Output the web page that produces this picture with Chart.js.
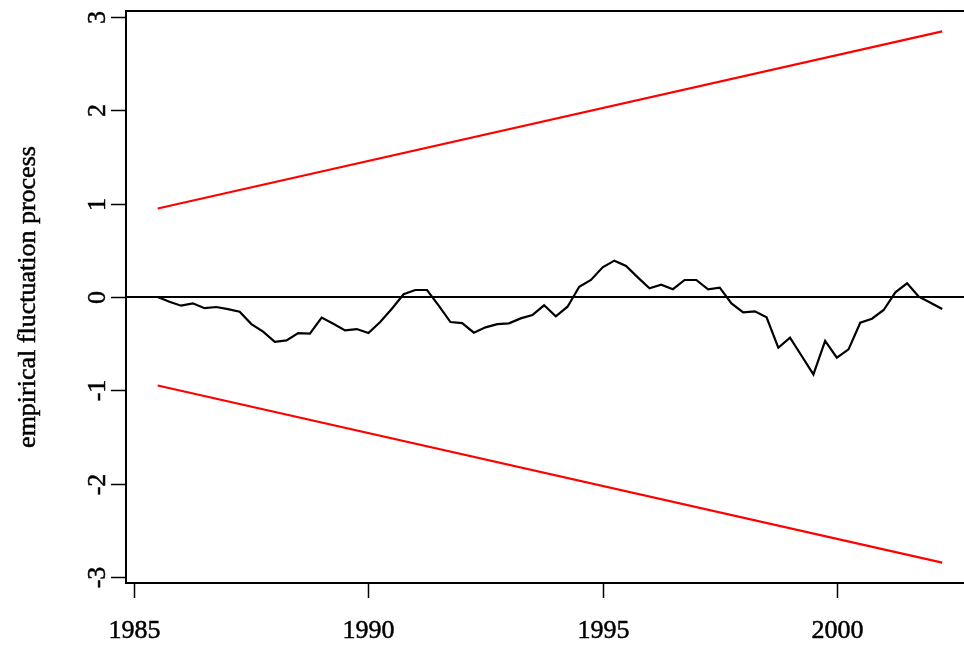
<!DOCTYPE html>
<html lang="en">

<head>
    <meta charset="UTF-8">
    <title>empirical fluctuation process</title>
    <style>
        html, body {
            margin: 0;
            padding: 0;
            overflow: hidden;
            background: #fff;
        }
        .blocker {
            width: 990px;
            height: 648px;
        }
    </style>
    <script src="https://cdn.jsdelivr.net/npm/chart.js"></script>
</head>

<body>
    <div class="blocker">
        <canvas id="myChart" width="990" height="648"></canvas>
    </div>

    <script>
        // quarterly series, starts 1985 Q3
        const startYear = 1985.5;
        const freq = 4;
        const process = [
            0, -0.05, -0.093, -0.068, -0.12, -0.107, -0.13, -0.157, -0.29, -0.37,
            -0.48, -0.465, -0.386, -0.393, -0.22, -0.286, -0.357, -0.343, -0.386, -0.268,
            -0.125, 0.029, 0.075, 0.075, -0.093, -0.268, -0.279, -0.382, -0.325, -0.29,
            -0.282, -0.229, -0.193, -0.089, -0.207, -0.104, 0.11, 0.182, 0.318, 0.389,
            0.332, 0.21, 0.093, 0.132, 0.084, 0.182, 0.182, 0.082, 0.1, -0.068,
            -0.164, -0.154, -0.218, -0.543, -0.436, -0.632, -0.829, -0.471, -0.65, -0.561,
            -0.275, -0.232, -0.139, 0.05, 0.146, 0.003, -0.061, -0.129
        ];
        const boundTimes = [1985.5, 2002.25];
        const upperBound = [0.948, 2.844];
        const lowerBound = [-0.948, -2.844];
        const xTicks = [1985, 1990, 1995, 2000];
        const yTicks = [-3, -2, -1, 0, 1, 2, 3];
        const xRange = [1984.823, 2002.92];
        const yRange = [-3.062, 3.062];
        const yTitle = 'empirical fluctuation process';

        const font = '26px "Liberation Serif", "Times New Roman", serif';

        const procPoints = process.map((v, i) => ({ x: startYear + i / freq, y: v }));
        const upperPoints = boundTimes.map((t, i) => ({ x: t, y: upperBound[i] }));
        const lowerPoints = boundTimes.map((t, i) => ({ x: t, y: lowerBound[i] }));
        const zeroPoints = xRange.map(t => ({ x: t, y: 0 }));

        // text drawn a bit heavier, like the R png output
        function heavyText(c, s, x, y) {
            c.fillText(s, x, y);
            c.lineWidth = 0.5;
            c.strokeText(s, x, y);
        }

        // R style box + axes
        const rAxes = {
            id: 'rAxes',
            afterDraw(chart) {
                const c = chart.ctx;
                const a = chart.chartArea;
                const xs = chart.scales.x;
                const ys = chart.scales.y;
                c.save();
                c.strokeStyle = '#000';
                c.lineWidth = 2;
                c.strokeRect(a.left, a.top, a.right - a.left, a.bottom - a.top);

                c.fillStyle = '#000';
                c.font = font;
                c.textAlign = 'center';
                c.textBaseline = 'middle';

                xTicks.forEach(t => {
                    const px = Math.round(xs.getPixelForValue(t)) + 0.5;
                    c.lineWidth = 1.5;
                    c.beginPath();
                    c.moveTo(px, a.bottom);
                    c.lineTo(px, a.bottom + 15);
                    c.stroke();
                    heavyText(c, String(t), px, 631);
                });

                yTicks.forEach(t => {
                    const py = Math.round(ys.getPixelForValue(t)) + 0.5;
                    c.lineWidth = 1.5;
                    c.beginPath();
                    c.moveTo(a.left - 15, py);
                    c.lineTo(a.left, py);
                    c.stroke();
                    c.save();
                    c.translate(98, py);
                    c.rotate(-Math.PI / 2);
                    heavyText(c, String(t), 0, 0);
                    c.restore();
                });

                c.save();
                c.translate(28, (a.top + a.bottom) / 2);
                c.rotate(-Math.PI / 2);
                heavyText(c, yTitle, 0, 0);
                c.restore();
                c.restore();
            }
        };

        const ctx = document.getElementById('myChart');

        new Chart(ctx, {
            type: 'line',
            data: {
                datasets: [{
                    label: 'process',
                    data: procPoints,
                    borderColor: '#000',
                    borderWidth: 2.2,
                    pointRadius: 0,
                    tension: 0
                }, {
                    label: 'upper',
                    data: upperPoints,
                    borderColor: '#ff0000',
                    borderWidth: 2.2,
                    pointRadius: 0
                }, {
                    label: 'lower',
                    data: lowerPoints,
                    borderColor: '#ff0000',
                    borderWidth: 2.2,
                    pointRadius: 0
                }, {
                    label: 'zero',
                    data: zeroPoints,
                    borderColor: '#000',
                    borderWidth: 2.2,
                    pointRadius: 0
                }]
            },
            options: {
                responsive: false,
                animation: false,
                devicePixelRatio: 1,
                layout: {
                    padding: { top: 11, right: 16.4, left: 0, bottom: 0 }
                },
                plugins: {
                    legend: { display: false },
                    tooltip: { enabled: false }
                },
                scales: {
                    x: {
                        type: 'linear',
                        min: xRange[0],
                        max: xRange[1],
                        grid: { display: false },
                        border: { display: false },
                        ticks: { display: false },
                        afterFit: s => { s.height = 65; }
                    },
                    y: {
                        type: 'linear',
                        min: yRange[0],
                        max: yRange[1],
                        grid: { display: false },
                        border: { display: false },
                        ticks: { display: false },
                        afterFit: s => { s.width = 126; }
                    }
                }
            },
            plugins: [rAxes]
        });
    </script>
</body>

</html>
